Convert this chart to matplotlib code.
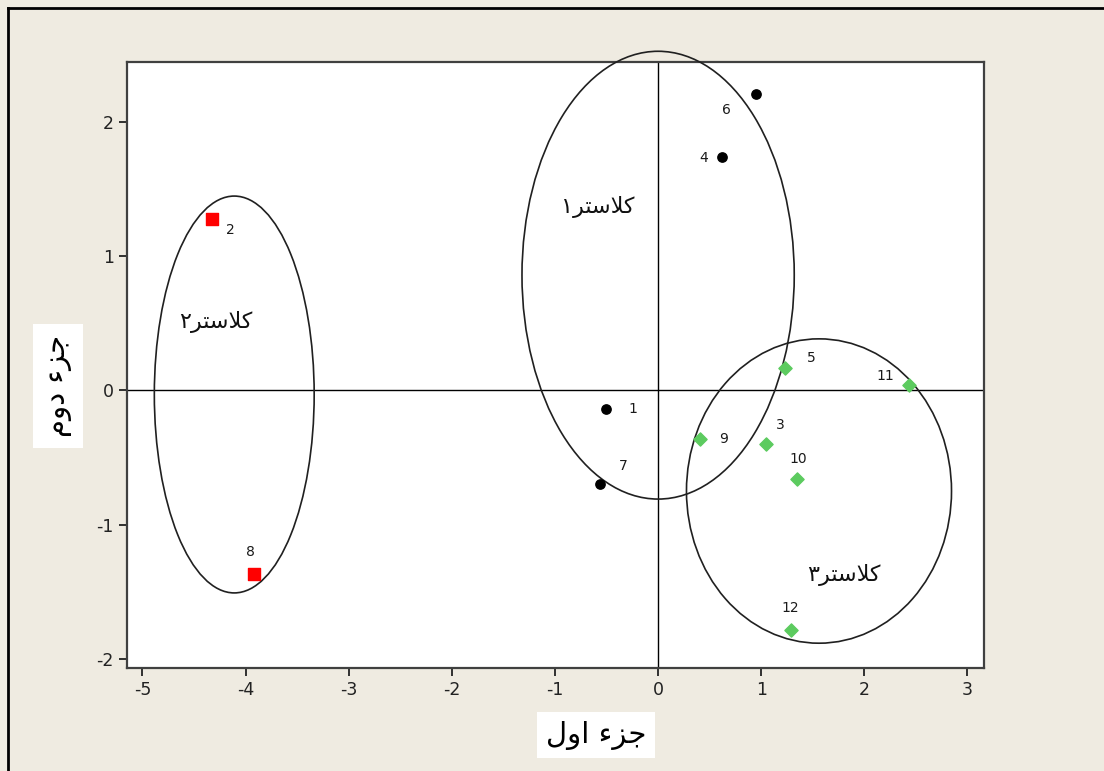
import matplotlib
matplotlib.use("Agg")
import matplotlib.pyplot as plt
from matplotlib.patches import Ellipse
from matplotlib.lines import Line2D

plt.rcParams['font.family'] = ['DejaVu Sans']
plt.rcParams['axes.unicode_minus'] = False

# point data
c1_ids = ["1", "4", "6", "7"]
c1_x = [-0.51, 0.62, 0.95, -0.56]
c1_y = [-0.14, 1.74, 2.21, -0.70]

c2_ids = ["2", "8"]
c2_x = [-4.33, -3.92]
c2_y = [1.28, -1.37]

c3_ids = ["3", "5", "9", "10", "11", "12"]
c3_x = [1.05, 1.23, 0.41, 1.35, 2.43, 1.29]
c3_y = [-0.40, 0.17, -0.36, -0.66, 0.04, -1.79]

# cluster ellipses: centre x, centre y, width, height
ell_cx = [0.0, -4.11, 1.56]
ell_cy = [0.86, -0.03, -0.75]
ell_w = [2.64, 1.55, 2.57]
ell_h = [3.34, 2.96, 2.27]

# cluster names (shaped arabic presentation forms, logical order)
cluster_names = ["\uFB90\uFEFC\uFEB3\uFE98\uFEAE\u06F1",
                 "\uFB90\uFEFC\uFEB3\uFE98\uFEAE\u06F2",
                 "\uFB90\uFEFC\uFEB3\uFE98\uFEAE\u06F3"]
name_x = [-0.59, -4.29, 1.80]
name_y = [1.37, 0.51, -1.38]

xlabel_text = "\uFE9F\uFEB0\uFE80 \uFE8D\uFEED\uFEDD"   # جزء اول
ylabel_text = "\uFE9F\uFEB0\uFE80 \uFEA9\uFEED\uFEE1"   # جزء دوم

x_ticks = [-5, -4, -3, -2, -1, 0, 1, 2, 3]
y_ticks = [-2, -1, 0, 1, 2]

# label offsets in pixels (dx, dy) relative to each point
label_off = {"1": (27, 0), "4": (-18, -1), "6": (-30, -16), "7": (23, 18),
             "2": (19, -11), "8": (-3, 22), "3": (14, 19), "5": (26, 10),
             "9": (23, 0), "10": (1, 20), "11": (-23, 9), "12": (-1, 22)}


def visual(s):
    # matplotlib draws left to right, so flip the logical order
    return s[::-1]


bg = "#EFEBE1"
fig = plt.figure(figsize=(11.04, 7.71), dpi=100, facecolor=bg)
ax = fig.add_axes([127 / 1104, 1 - 668 / 771, (984 - 127) / 1104, (668 - 62) / 771])
ax.set_facecolor("white")

ax.set_xlim(-5.15, 3.16)
ax.set_ylim(-2.07, 2.45)

ax.axhline(0, color="black", lw=1)
ax.axvline(0, color="black", lw=1)

for cx, cy, w, h in zip(ell_cx, ell_cy, ell_w, ell_h):
    ax.add_patch(Ellipse((cx, cy), w, h, fill=False, edgecolor="#202020", lw=1.2,
                         clip_on=False, zorder=4))

ax.scatter(c1_x, c1_y, marker="o", s=45, color="black", zorder=5)
ax.scatter(c2_x, c2_y, marker="s", s=70, color="#FF0000", zorder=5)
ax.scatter(c3_x, c3_y, marker="D", s=45, color="#5CCB5F", zorder=5)

for ids, xs, ys in [(c1_ids, c1_x, c1_y), (c2_ids, c2_x, c2_y), (c3_ids, c3_x, c3_y)]:
    for i, x, y in zip(ids, xs, ys):
        dx, dy = label_off[i]
        ax.annotate(i, (x, y), xytext=(dx * 0.72, dy * 0.72), textcoords="offset points",
                    ha="center", va="center", fontsize=10, color="#1a1a1a")

for name, x, y in zip(cluster_names, name_x, name_y):
    ax.text(x, y, visual(name), ha="center", va="center", fontsize=16, color="#111111")

ax.set_xticks(x_ticks)
ax.set_yticks(y_ticks)
ax.tick_params(direction="out", length=6, width=1.3, labelsize=12.5, colors="#222222")
for sp in ax.spines.values():
    sp.set_color("#404040")
    sp.set_linewidth(1.6)

fig.text(596 / 1104, 1 - 735 / 771, visual(xlabel_text), ha="center", va="center",
         fontsize=21, color="black",
         bbox=dict(facecolor="white", edgecolor="none", pad=6))
fig.text(58 / 1104, 1 - 386 / 771, visual(ylabel_text), ha="center", va="center",
         fontsize=21, color="black", rotation=90,
         bbox=dict(facecolor="white", edgecolor="none", pad=8))

# outer frame lines (top and left)
fig.add_artist(Line2D([8 / 1104, 1], [1 - 8 / 771, 1 - 8 / 771], color="black", lw=2,
                      transform=fig.transFigure))
fig.add_artist(Line2D([8 / 1104, 8 / 1104], [0, 1 - 8 / 771], color="black", lw=2,
                      transform=fig.transFigure))

fig.savefig("out.png", dpi=100, facecolor=bg)
